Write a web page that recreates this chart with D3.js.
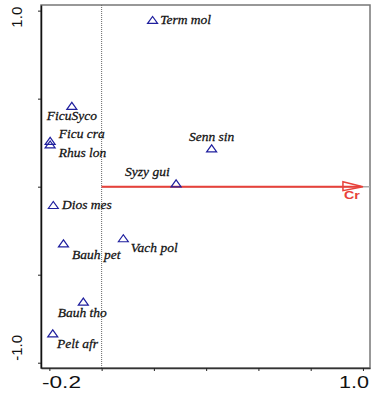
<!DOCTYPE html>
<html>
<head>
<meta charset="utf-8">
<script src="https://cdn.jsdelivr.net/npm/d3@7"></script>
<style>
  body { margin: 0; background: #fff; }
  svg { display: block; }
</style>
</head>
<body>
<script>
// species scores on the first two axes
const species = ["Term mol", "FicuSyco", "Ficu cra", "Rhus lon", "Senn sin", "Syzy gui",
    "Dios mes", "Bauh pet", "Vach pol", "Bauh tho", "Pelt afr"];
const axis1 = [0.195, -0.114, -0.197, -0.197, 0.421, 0.285, -0.185, -0.146, 0.083, -0.070, -0.187];
const axis2 = [0.947, 0.459, 0.260, 0.240, 0.218, 0.019, -0.104, -0.322, -0.293, -0.653, -0.833];

// environmental vector
const envName = ["Cr"];
const envX = [1.0];
const envY = [0.0];

const xTicks = [-0.2, 0, 0.2, 0.4, 0.6, 0.8, 1.0];
const yTicks = [1.0, 0.5, 0, -0.5, -1.0];
const xTickLabels = ["-0.2", "1.0"];
const yTickLabels = ["1.0", "-1.0"];

const width = 372;
const height = 408;

// label placement: [dx, dy, anchor]
const labelPos = {
    "Term mol": [7, 4, "start"],
    "FicuSyco": [0, 14, "middle"],
    "Ficu cra": [8, -3, "start"],
    "Rhus lon": [8, 13, "start"],
    "Senn sin": [0, -7, "middle"],
    "Syzy gui": [-6, -7, "end"],
    "Dios mes": [8, 4, "start"],
    "Bauh pet": [8, 16, "start"],
    "Vach pol": [7, 14, "start"],
    "Bauh tho": [-1, 15, "middle"],
    "Pelt afr": [4, 15, "start"]
};

const svg = d3.select("body")
    .append("svg")
    .attr("width", width)
    .attr("height", height);

const x = d3.scaleLinear().domain([-0.232, 1.027]).range([41, 370]);
const y = d3.scaleLinear().domain([1.032, -1.03]).range([5, 368]);

// frame
svg.append("rect")
    .attr("x", 41).attr("y", 5)
    .attr("width", 329).attr("height", 363)
    .attr("fill", "none")
    .attr("stroke", "#777")
    .attr("stroke-width", 1.5);

// reference lines
svg.append("line")
    .attr("x1", x(0)).attr("x2", x(0))
    .attr("y1", 5).attr("y2", 368)
    .attr("stroke", "#666")
    .attr("stroke-width", 1)
    .attr("stroke-dasharray", "1,1");

svg.append("line")
    .attr("x1", x(0)).attr("x2", 370)
    .attr("y1", y(0)).attr("y2", y(0))
    .attr("stroke", "#aaa")
    .attr("stroke-width", 1.5);

// axes
const xAxis = svg.append("g")
    .attr("transform", "translate(0,368)")
    .call(d3.axisBottom(x).tickValues(xTicks).tickSize(3).tickSizeOuter(0).tickFormat(""));
const yAxis = svg.append("g")
    .attr("transform", "translate(41,0)")
    .call(d3.axisLeft(y).tickValues(yTicks).tickSize(3).tickSizeOuter(0).tickFormat(""));

xAxis.select(".domain").attr("stroke", "#333").attr("stroke-width", 1.5);
yAxis.select(".domain").attr("stroke", "#111").attr("stroke-width", 1.5);
xAxis.selectAll(".tick line").attr("stroke", "#222");
yAxis.selectAll(".tick line").attr("stroke", "#222");

// tick labels
svg.append("text")
    .attr("x", 42).attr("y", 388)
    .attr("text-anchor", "start")
    .attr("font-family", "Liberation Sans, Arial, sans-serif")
    .attr("font-size", 16)
    .attr("textLength", 39)
    .attr("lengthAdjust", "spacingAndGlyphs")
    .attr("fill", "#111")
    .text(xTickLabels[0]);

svg.append("text")
    .attr("x", 369).attr("y", 388)
    .attr("text-anchor", "end")
    .attr("font-family", "Liberation Sans, Arial, sans-serif")
    .attr("font-size", 16)
    .attr("fill", "#111")
    .attr("transform", "translate(369,0) scale(1.35,1) translate(-369,0)")
    .text(xTickLabels[1]);

svg.append("text")
    .attr("transform", `translate(22,${y(1) + 17}) rotate(-90)`)
    .attr("text-anchor", "start")
    .attr("font-family", "Liberation Sans, Arial, sans-serif")
    .attr("font-size", 15)
    .attr("fill", "#111")
    .text(yTickLabels[0]);

svg.append("text")
    .attr("transform", `translate(22,${y(-1) - 2}) rotate(-90)`)
    .attr("text-anchor", "start")
    .attr("font-family", "Liberation Sans, Arial, sans-serif")
    .attr("font-size", 15)
    .attr("fill", "#111")
    .text(yTickLabels[1]);

// environmental arrow
envName.forEach((name, i) => {
    const x0 = x(0), y0 = y(0);
    const x1 = x(envX[i]), y1 = y(envY[i]);
    svg.append("line")
        .attr("x1", x0).attr("y1", y0)
        .attr("x2", x1 - 2).attr("y2", y1)
        .attr("stroke", "#e8413a")
        .attr("stroke-width", 2);
    svg.append("path")
        .attr("d", `M${x1 - 20},${y1 - 5} L${x1},${y1} L${x1 - 20},${y1 + 4} Z`)
        .attr("fill", "none")
        .attr("stroke", "#e8413a")
        .attr("stroke-width", 1.5);
    svg.append("text")
        .attr("x", x1 - 11).attr("y", y1 + 12)
        .attr("text-anchor", "middle")
        .attr("font-family", "Liberation Sans, Arial, sans-serif")
        .attr("font-weight", "bold")
        .attr("font-size", 11)
        .attr("fill", "#e8413a")
        .attr("transform", `translate(${x1 - 11},0) scale(1.3,1) translate(${-(x1 - 11)},0)`)
        .text(name);
});

// species points
const pts = svg.append("g")
    .selectAll("g")
    .data(species)
    .enter()
    .append("g")
    .attr("transform", (d, i) => "translate(" + x(axis1[i]) + "," + y(axis2[i]) + ")");

pts.append("path")
    .attr("d", "M-5,3.5 L0,-3.5 L5,3.5 Z")
    .attr("fill", "none")
    .attr("stroke", "#1f1f9e")
    .attr("stroke-width", 1.2);

pts.append("text")
    .attr("x", d => labelPos[d][0])
    .attr("y", d => labelPos[d][1])
    .attr("text-anchor", d => labelPos[d][2])
    .attr("font-family", "Liberation Serif, Times New Roman, serif")
    .attr("font-style", "italic")
    .attr("font-size", 12.5)
    .attr("fill", "#111")
    .attr("stroke", "#111")
    .attr("stroke-width", 0.25)
    .attr("transform", "scale(1.08,1)")
    .text(d => d);
</script>
</body>
</html>
